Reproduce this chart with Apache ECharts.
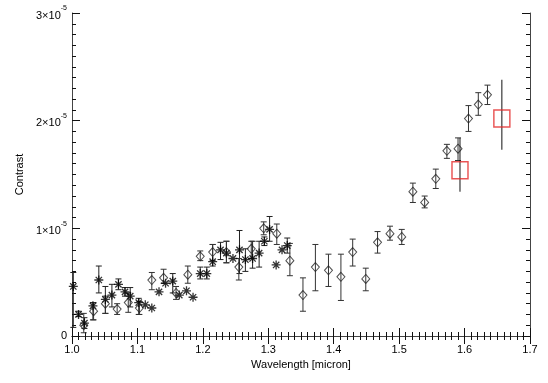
<!DOCTYPE html>
<html>
<head>
<meta charset="utf-8">
<script src="https://cdn.jsdelivr.net/npm/echarts@6/dist/echarts.min.js"></script>
<style>
  html, body { margin: 0; padding: 0; background: #fff; }
  #contrast { width: 548px; height: 383px; }
</style>
</head>
<body>
<div id="contrast"></div>
<script>
// contrast values are in units of 1e-5
const diamondWl = [1.018, 1.033, 1.051, 1.069, 1.086, 1.103, 1.122, 1.140, 1.159, 1.177, 1.196, 1.215, 1.236, 1.255, 1.274, 1.293, 1.313, 1.333, 1.353, 1.372, 1.392, 1.411, 1.429, 1.449, 1.467, 1.486, 1.504, 1.521, 1.539, 1.556, 1.573, 1.590, 1.606, 1.621, 1.635]
const diamondVal = [0.10, 0.23, 0.30, 0.25, 0.31, 0.26, 0.52, 0.54, 0.40, 0.57, 0.74, 0.78, 0.78, 0.64, 0.81, 1.00, 0.95, 0.70, 0.38, 0.64, 0.61, 0.55, 0.78, 0.53, 0.87, 0.95, 0.92, 1.34, 1.24, 1.46, 1.72, 1.74, 2.02, 2.15, 2.24]
const diamondLo = [0.03, 0.15, 0.21, 0.20, 0.22, 0.20, 0.43, 0.49, 0.34, 0.49, 0.70, 0.70, 0.68, 0.52, 0.72, 0.94, 0.85, 0.56, 0.23, 0.42, 0.46, 0.33, 0.65, 0.42, 0.77, 0.89, 0.85, 1.24, 1.19, 1.37, 1.65, 1.63, 1.90, 2.05, 2.15]
const diamondHi = [0.21, 0.31, 0.37, 0.30, 0.40, 0.32, 0.59, 0.62, 0.46, 0.65, 0.79, 0.85, 0.88, 0.72, 0.88, 1.06, 1.04, 0.86, 0.54, 0.85, 0.76, 0.76, 0.90, 0.63, 0.97, 1.02, 0.99, 1.42, 1.30, 1.55, 1.78, 1.84, 2.14, 2.26, 2.33]

const starWl = [1.002, 1.010, 1.019, 1.032, 1.041, 1.051, 1.061, 1.071, 1.081, 1.089, 1.102, 1.112, 1.122, 1.133, 1.143, 1.154, 1.164, 1.175, 1.185, 1.196, 1.206, 1.215, 1.227, 1.236, 1.246, 1.256, 1.265, 1.276, 1.286, 1.294, 1.302, 1.312, 1.321, 1.329]
const starVal = [0.46, 0.20, 0.12, 0.28, 0.52, 0.34, 0.38, 0.48, 0.41, 0.37, 0.31, 0.29, 0.26, 0.41, 0.49, 0.51, 0.38, 0.42, 0.36, 0.58, 0.58, 0.69, 0.80, 0.77, 0.72, 0.80, 0.71, 0.72, 0.77, 0.88, 0.99, 0.66, 0.80, 0.84]
const starLo = [0.08, 0.18, 0.07, 0.15, 0.40, 0.21, 0.27, 0.43, 0.37, 0.27, 0.20, 0.29, 0.26, 0.41, 0.49, 0.40, 0.38, 0.42, 0.36, 0.53, 0.53, 0.65, 0.71, 0.68, 0.72, 0.58, 0.60, 0.63, 0.64, 0.84, 0.88, 0.66, 0.80, 0.77]
const starHi = [0.59, 0.23, 0.17, 0.31, 0.65, 0.46, 0.48, 0.53, 0.45, 0.45, 0.35, 0.29, 0.26, 0.41, 0.49, 0.58, 0.38, 0.42, 0.36, 0.64, 0.64, 0.85, 0.87, 0.88, 0.72, 0.98, 0.81, 0.88, 0.88, 0.92, 1.11, 0.66, 0.80, 0.91]

const boxWl = [1.593, 1.657]
const boxVal = [1.54, 2.02]
const boxLo = [1.34, 1.73]
const boxHi = [1.84, 2.38]

const xTicks = [1.0, 1.1, 1.2, 1.3, 1.4, 1.5, 1.6, 1.7]
const yTicks = [0, 1, 2, 3]

// error bar drawn with the axis scales
const errorBars = (wl, lo, hi, color, cap) => ({
  type: 'custom',
  silent: true,
  z: 1,
  data: wl.map((w, i) => [w, lo[i], hi[i]]),
  renderItem: (params, api) => {
    if (api.value(1) === api.value(2)) return
    const top = api.coord([api.value(0), api.value(2)])
    const bot = api.coord([api.value(0), api.value(1)])
    const style = { stroke: color, lineWidth: 1 }
    const children = [{ type: 'line', shape: { x1: top[0], y1: top[1], x2: bot[0], y2: bot[1] }, style }]
    if (cap) {
      children.push({ type: 'line', shape: { x1: top[0] - cap, y1: top[1], x2: top[0] + cap, y2: top[1] }, style })
      children.push({ type: 'line', shape: { x1: bot[0] - cap, y1: bot[1], x2: bot[0] + cap, y2: bot[1] }, style })
    }
    return { type: 'group', children }
  },
})

const font = 'Liberation Sans'
const tickStyle = { lineStyle: { color: '#111', width: 1 } }

const baseX = {
  type: 'value',
  min: xTicks[0],
  max: xTicks[xTicks.length - 1],
  interval: 0.1,
  axisLine: { lineStyle: { color: '#444', width: 1 } },
  axisTick: { inside: true, length: 8, ...tickStyle },
  minorTick: { show: true, splitNumber: 10, length: 4, lineStyle: { color: '#111' } },
  splitLine: { show: false },
}
const baseY = {
  type: 'value',
  min: yTicks[0],
  max: yTicks[yTicks.length - 1],
  interval: 1,
  axisLine: { show: true, lineStyle: { color: '#444', width: 1 } },
  axisTick: { show: true, inside: true, length: 8, ...tickStyle },
  minorTick: { show: true, splitNumber: 10, length: 4, lineStyle: { color: '#111' } },
  splitLine: { show: false },
}

const option = {
  animation: false,
  grid: { left: 72, right: 18, top: 13, bottom: 47 },
  xAxis: [
    {
      ...baseX,
      position: 'bottom',
      name: 'Wavelength [micron]',
      nameLocation: 'middle',
      nameGap: 21,
      nameTextStyle: { fontFamily: font, fontSize: 11, color: '#000' },
      axisLabel: { formatter: (v) => v.toFixed(1), fontFamily: font, fontSize: 11, color: '#000', margin: 8 },
    },
    { ...baseX, position: 'top', axisLabel: { show: false } },
  ],
  yAxis: [
    {
      ...baseY,
      position: 'left',
      name: 'Contrast',
      nameLocation: 'middle',
      nameGap: 45,
      nameTextStyle: { fontFamily: font, fontSize: 11, color: '#000' },
      axisLabel: {
        margin: 5,
        fontFamily: font,
        fontSize: 11,
        color: '#000',
        formatter: (v) => (v === 0 ? '0' : '{m|' + v + '×10}{e|-5}'),
        rich: {
          m: { fontFamily: font, fontSize: 11, color: '#000', lineHeight: 16, verticalAlign: 'bottom' },
          e: { fontFamily: font, fontSize: 7, color: '#000', lineHeight: 16, verticalAlign: 'top' },
        },
      },
    },
    { ...baseY, position: 'right', axisLabel: { show: false } },
  ],
  series: [
    errorBars(starWl, starLo, starHi, '#222', 3),
    errorBars(diamondWl, diamondLo, diamondHi, '#333', 3),
    errorBars(boxWl, boxLo, boxHi, '#111', 0),
    {
      type: 'scatter',
      symbol: 'path://M5,0L5,10M0,5L10,5M1.5,1.5L8.5,8.5M1.5,8.5L8.5,1.5',
      symbolSize: 9,
      itemStyle: { color: 'rgba(0,0,0,0)', borderColor: '#000', borderWidth: 1.3 },
      data: starWl.map((w, i) => [w, starVal[i]]),
      z: 3,
    },
    {
      type: 'scatter',
      symbol: 'diamond',
      symbolSize: [8, 9],
      itemStyle: { color: 'rgba(0,0,0,0)', borderColor: '#222', borderWidth: 1 },
      data: diamondWl.map((w, i) => [w, diamondVal[i]]),
      z: 3,
    },
    {
      type: 'scatter',
      symbol: 'rect',
      symbolSize: [16, 17],
      itemStyle: { color: 'rgba(0,0,0,0)', borderColor: '#e42a2a', borderWidth: 1.5 },
      data: boxWl.map((w, i) => [w, boxVal[i]]),
      z: 4,
    },
  ],
}

const chart = echarts.init(document.getElementById('contrast'))
chart.setOption(option)
window.addEventListener('resize', function () {
  chart.resize()
})
</script>
</body>
</html>
